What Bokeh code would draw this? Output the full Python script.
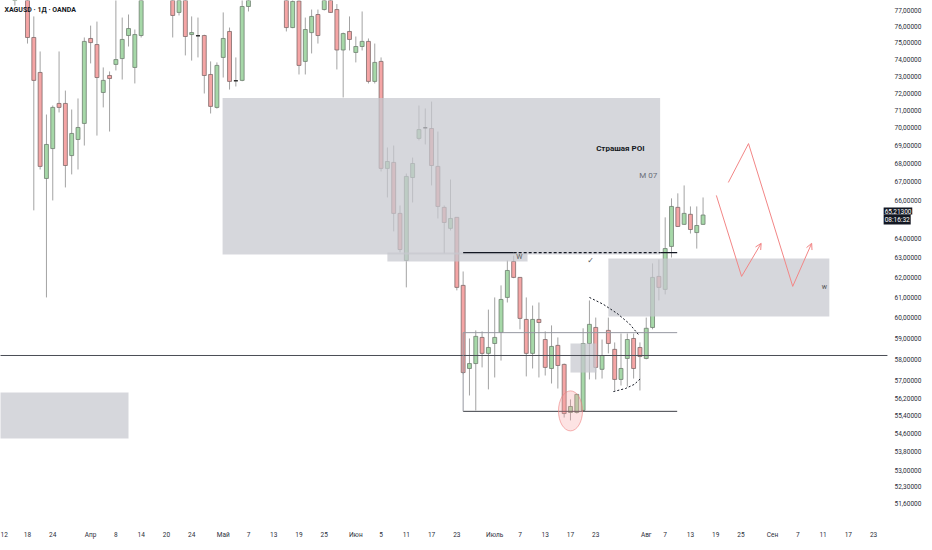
from bokeh.plotting import figure
from bokeh.models import Range1d, FixedTicker, CustomJSTickFormatter, Label, Arrow, OpenHead
from bokeh.core.properties import value
from bokeh.embed import file_html
from bokeh.resources import INLINE

# ---------------- data: daily candles XAGUSD (bar index = trading day) ----------------
bar = list(range(-4, 108))
opens = [79.5, 79.0, 79.6, 79.9,
         78.6, 75.33, 73.22, 67.18, 68.83, 71.40, 71.40, 68.44, 69.34, 70.25,
         75.27, 74.90, 72.04, 73.04, 73.70, 74.05, 75.45, 73.52, 75.45, 78.3,
         79.0, 78.8, 79.3, 78.4, 76.88, 78.3, 75.51, 75.43, 75.45, 73.10,
         71.17, 74.12, 75.70, 72.73, 72.75, 77.25, 78.5, 79.0, 78.6, 79.2,
         79.7, 78.8, 75.94, 77.6, 73.88, 75.63, 76.75, 77.06, 78.3, 77.06,
         74.57, 75.70, 74.42, 74.78, 75.09, 72.69, 73.88, 67.73, 68.06, 65.30,
         62.85, 67.23, 69.40, 70.00, 69.96, 67.84, 65.62, 64.51, 65.09, 61.59,
         57.57, 57.80, 59.04, 58.28, 58.75, 59.28, 60.99, 62.80, 61.99, 59.91,
         58.28, 59.91, 58.94, 57.57, 58.66, 57.76, 55.55, 55.55, 55.64, 58.75,
         59.52, 57.53, 59.38, 58.47, 57.06, 58.04, 58.99, 58.56, 58.04, 59.52,
         62.04, 61.39, 63.57, 65.62, 64.72, 65.25, 64.29, 64.72]
highs = [80.2, 80.0, 80.4, 80.6,
         79.0, 76.63, 74.48, 70.76, 71.28, 74.48, 72.15, 71.05, 71.69, 75.33,
         76.06, 76.31, 73.52, 73.28, 77.80, 76.56, 76.75, 75.82, 78.60, 79.4,
         80.2, 79.6, 80.0, 78.9, 78.6, 78.7, 76.63, 76.56, 75.50, 73.88,
         73.82, 76.88, 75.94, 74.12, 77.70, 78.9, 79.3, 79.8, 79.5, 80.1,
         80.3, 79.2, 77.8, 77.8, 76.56, 77.06, 77.06, 78.8, 78.9, 77.4,
         75.63, 76.63, 75.39, 76.94, 75.27, 74.96, 74.12, 68.89, 69.00, 65.72,
         67.45, 68.33, 71.28, 71.11, 71.51, 69.79, 65.72, 67.12, 65.10, 62.29,
         58.99, 59.38, 59.33, 60.39, 60.99, 61.59, 62.85, 63.10, 62.00, 60.99,
         60.59, 60.74, 59.33, 59.62, 59.04, 57.80, 56.14, 56.40, 59.48, 60.84,
         60.00, 58.94, 60.00, 58.80, 59.23, 59.23, 59.23, 58.80, 60.00, 62.70,
         62.90, 65.09, 66.10, 66.37, 66.80, 65.67, 65.67, 66.15]
lows = [78.6, 78.2, 77.31, 78.4,
        74.96, 65.46, 67.67, 60.99, 65.99, 70.88, 66.69, 67.40, 67.67, 69.00,
        73.76, 69.56, 71.17, 69.79, 73.34, 72.80, 74.78, 72.57, 75.33, 77.9,
        78.4, 78.0, 78.2, 75.33, 76.69, 74.24, 73.93, 74.12, 71.98, 70.82,
        71.10, 72.92, 72.21, 72.39, 72.70, 76.94, 77.9, 78.3, 78.0, 78.6,
        78.5, 75.70, 75.90, 73.10, 73.10, 74.36, 74.96, 77.0, 76.85, 73.40,
        71.75, 74.54, 73.82, 74.54, 72.57, 72.57, 67.56, 66.15, 64.35, 63.26,
        61.49, 65.88, 69.29, 69.06, 66.80, 65.03, 63.21, 64.40, 61.34, 57.30,
        56.32, 55.64, 57.62, 56.60, 57.15, 57.94, 60.74, 61.95, 59.43, 57.20,
        57.57, 57.15, 57.24, 56.87, 56.64, 55.32, 55.19, 55.50, 55.60, 57.06,
        57.06, 57.10, 58.28, 56.55, 56.78, 56.73, 57.10, 56.55, 58.00, 59.43,
        60.84, 61.14, 63.00, 64.58, 64.70, 64.24, 63.46, 64.70]
closes = [79.0, 79.6, 79.9, 78.8,
          75.33, 72.75, 67.84, 69.06, 71.17, 71.17, 67.89, 69.68, 70.02, 75.09,
          75.02, 72.92, 72.75, 72.86, 73.99, 75.21, 75.88, 75.51, 78.30, 79.0,
          78.8, 79.3, 78.6, 76.69, 78.2, 75.39, 75.63, 75.43, 73.04, 71.23,
          73.64, 75.27, 72.69, 72.73, 77.25, 78.5, 79.0, 78.6, 79.2, 79.7,
          78.9, 75.94, 77.57, 73.64, 75.82, 76.63, 75.45, 78.3, 76.88, 74.57,
          75.57, 75.21, 74.78, 75.09, 72.69, 73.82, 67.73, 68.11, 65.30, 63.41,
          67.29, 68.00, 69.90, 70.00, 67.89, 65.67, 64.82, 65.03, 61.49, 57.38,
          57.80, 59.09, 58.28, 58.56, 59.04, 60.89, 62.34, 61.99, 59.96, 58.28,
          59.91, 59.76, 57.62, 58.61, 57.71, 55.50, 55.82, 56.37, 58.75, 59.67,
          57.62, 58.18, 58.75, 57.06, 57.57, 58.94, 57.57, 58.13, 59.48, 61.99,
          61.49, 63.46, 65.67, 64.61, 65.30, 64.45, 64.66, 65.213]

last_price = 65.213
last_price_text = "65,21300"
countdown_text = "08:16:32"

# time axis (bar index -> label)
x_ticks = [-4, 0, 4, 10, 14, 18, 22, 26, 31, 35, 39, 43, 47, 52, 56, 60, 64, 68,
           74, 78, 82, 86, 90, 98, 101, 105, 109, 113, 118, 122, 126, 130, 134]
x_labels = ["12", "18", "24", "Апр", "8", "14", "20", "24", "Май", "7", "13", "19", "25",
            "Июн", "5", "11", "17", "23", "Июль", "7", "13", "17", "23", "Авг", "7", "13",
            "19", "25", "Сен", "7", "11", "17", "23"]
# price axis ticks (log scale)
y_ticks = [77, 76, 75, 74, 73, 72, 71, 70, 69, 68, 67, 66, 64, 63, 62, 61, 60, 59, 58, 57,
           56.2, 55.4, 54.6, 53.8, 53.0, 52.3, 51.6, 50.9]

# drawings: zones (left bar, right bar, top price, bottom price)
zone_left = [30.9, 57.0, 92.0, -6.0, 86.0]
zone_right = [100.2, 79.2, 127.0, 16.0, 90.1]
zone_top = [71.71, 63.26, 62.95, 56.46, 58.75]
zone_bottom = [63.15, 62.80, 60.05, 54.39, 57.38]

support_level = 58.18
level_price = 63.25
range_top = 59.27
range_bottom = 55.60
range_start, range_end = 69, 102.9

arc_up_x = [89.0, 91.2, 93.4, 95.3, 96.9]
arc_up_y = [60.99, 60.65, 60.20, 59.71, 59.13]
arc_low_x = [92.8, 94.7, 96.1, 97.1]
arc_low_y = [56.50, 56.64, 56.83, 57.10]

path_a_x = [111.0, 114.2, 121.2]
path_a_y = [66.96, 69.11, 61.54]
path_a_tip = (124.2, 63.73)
path_b_x = [109.1, 113.1]
path_b_y = [66.26, 62.04]
path_b_tip = (116.2, 63.73)

# ---------------- figure ----------------
FONT = "Roboto"
X0, X1 = -4.276, 140.17      # 6.314 px per bar, frame 912 px wide
Y0, Y1 = 51.13, 77.628
SCALE_EDGE = 136.2           # where the price scale column begins (bar units)
BADGE_X = 135.6
p = figure(frame_width=912, frame_height=514, x_range=Range1d(X0, X1),
           y_range=Range1d(Y0, Y1), y_axis_type="log", y_axis_location="right",
           output_backend="svg", toolbar_location=None,
           min_border_left=0, min_border_top=0, min_border_right=0, min_border_bottom=0)
p.outline_line_color = None
p.grid.visible = False
p.background_fill_color = "white"

# axes
p.xaxis.ticker = FixedTicker(ticks=x_ticks, minor_ticks=[])
p.xaxis.major_label_overrides = {t: s for t, s in zip(x_ticks, x_labels)}
p.yaxis.ticker = FixedTicker(ticks=y_ticks, minor_ticks=[])
p.yaxis.formatter = CustomJSTickFormatter(code="return tick.toFixed(5).replace('.', ',');")
for ax in (p.xaxis[0], p.yaxis[0]):
    ax.axis_line_color = None
    ax.major_tick_line_color = None
    ax.minor_tick_line_color = None
    ax.major_label_text_font = FONT
    ax.major_label_text_font_size = "6.5px"
    ax.major_label_text_color = "#2a2e39"
p.xaxis.major_label_standoff = 10
p.yaxis.major_label_standoff = -24

# candles (only those reaching into the visible price window)
inc_x, inc_t, inc_b = [], [], []
dec_x, dec_t, dec_b = [], [], []
doj_x, doj_y = [], []
wx, wh, wl = [], [], []
for i, o, h, l, c in zip(bar, opens, highs, lows, closes):
    if l >= Y1:
        continue
    wx.append(i); wh.append(min(h, Y1 * 1.01)); wl.append(l)
    if c > o:
        inc_x.append(i); inc_t.append(min(c, Y1 * 1.01)); inc_b.append(o)
    elif c < o:
        dec_x.append(i); dec_t.append(min(o, Y1 * 1.01)); dec_b.append(c)
    else:
        doj_x.append(i); doj_y.append(o)

p.segment(x0=wx, y0=wh, x1=wx, y1=wl, line_color="#a3a3a3", line_width=1)
p.vbar(x=inc_x, top=inc_t, bottom=inc_b, width=0.62, fill_color="#a6d8a8",
       line_color="#6f7f70", line_width=0.8)
p.vbar(x=dec_x, top=dec_t, bottom=dec_b, width=0.62, fill_color="#f5a5a5",
       line_color="#7f6a6a", line_width=0.8)
p.dash(x=doj_x, y=doj_y, size=4, line_color="#333333", line_width=1.5)

# zones (drawn over candles, translucent)
p.quad(left=zone_left, right=zone_right, top=zone_top, bottom=zone_bottom,
       fill_color="#c6c8ce", fill_alpha=0.72, line_color=None)

# horizontal support line (across the chart pane, up to the price scale)
p.segment(x0=[X0 - 1], y0=[support_level], x1=[SCALE_EDGE], y1=[support_level],
          line_color="#4a4d55", line_width=1)

# range box lines
p.segment(x0=[range_start], y0=[range_top], x1=[range_end], y1=[range_top],
          line_color="#9598a1", line_width=1)
p.segment(x0=[range_start], y0=[range_bottom], x1=[range_end], y1=[range_bottom],
          line_color="#3b3e45", line_width=1)
p.segment(x0=[range_start], y0=[range_bottom], x1=[range_start], y1=[range_top],
          line_color="#9598a1", line_width=1)

# level line (solid - dashed - solid)
p.segment(x0=[69, 100.3], y0=[level_price, level_price], x1=[77.0, 102.9],
          y1=[level_price, level_price], line_color="#131722", line_width=1.4)
p.segment(x0=[77.0], y0=[level_price], x1=[100.3], y1=[level_price],
          line_color="#131722", line_width=1.4, line_dash="3 2")

# dashed arcs
p.line(arc_up_x, arc_up_y, line_color="#131722", line_width=1, line_dash="2 2")
p.line(arc_low_x, arc_low_y, line_color="#131722", line_width=1, line_dash="2 2")

# liquidity ellipse
p.ellipse(x=[86], y=[55.62], width=24, height=40, width_units="screen", height_units="screen",
          fill_color="#f7a1a1", fill_alpha=0.3, line_color="#ef8080", line_alpha=0.6)

# projected paths
RED = "#f28686"
p.line(path_a_x, path_a_y, line_color=RED, line_width=1)
p.line(path_b_x, path_b_y, line_color=RED, line_width=1)
p.add_layout(Arrow(end=OpenHead(size=6, line_color=RED, line_width=1),
                   x_start=path_a_x[-1], y_start=path_a_y[-1],
                   x_end=path_a_tip[0], y_end=path_a_tip[1], line_color=RED, line_width=1))
p.add_layout(Arrow(end=OpenHead(size=6, line_color=RED, line_width=1),
                   x_start=path_b_x[-1], y_start=path_b_y[-1],
                   x_end=path_b_tip[0], y_end=path_b_tip[1], line_color=RED, line_width=1))

# texts
p.text(x=[93.9], y=[68.83], text=["Страшая POI"], text_font=value(FONT), text_font_size="8px",
       text_font_style="bold", text_align="center", text_baseline="middle", text_color="#131722")
p.text(x=[98.3], y=[67.33], text=["M 07"], text_font=value(FONT), text_font_size="8px",
       text_align="center", text_baseline="middle", text_color="#6a6d78")
p.text(x=[77.9, 126.2], y=[63.05, 61.49], text=["W", "w"], text_font=value(FONT),
       text_font_size="7px", text_align="center", text_baseline="middle", text_color="#555555")
p.text(x=[89.2], y=[62.85], text=["✓"], text_font=value("DejaVu Sans"), text_font_size="8px",
       text_align="center", text_baseline="middle", text_color="#555555")
p.text(x=[-3.64], y=[77.0], text=["XAGUSD · 1Д · OANDA"], text_font=value(FONT),
       text_font_size="7px", text_font_style="bold", text_align="left", text_baseline="middle",
       text_color="#131722")

# last price marker on the price scale
p.add_layout(Label(x=BADGE_X, y=last_price, x_offset=0, y_offset=4, text=last_price_text,
                   text_font=FONT, text_font_size="6.5px", text_color="white",
                   text_align="left", text_baseline="middle",
                   background_fill_color="#131722", padding=1))
p.add_layout(Label(x=BADGE_X, y=last_price, x_offset=0, y_offset=-4.5, text=countdown_text,
                   text_font=FONT, text_font_size="6.5px", text_color="white",
                   text_align="left", text_baseline="middle",
                   background_fill_color="#131722", padding=1))

open("out.html", "w").write(file_html(p, INLINE))
